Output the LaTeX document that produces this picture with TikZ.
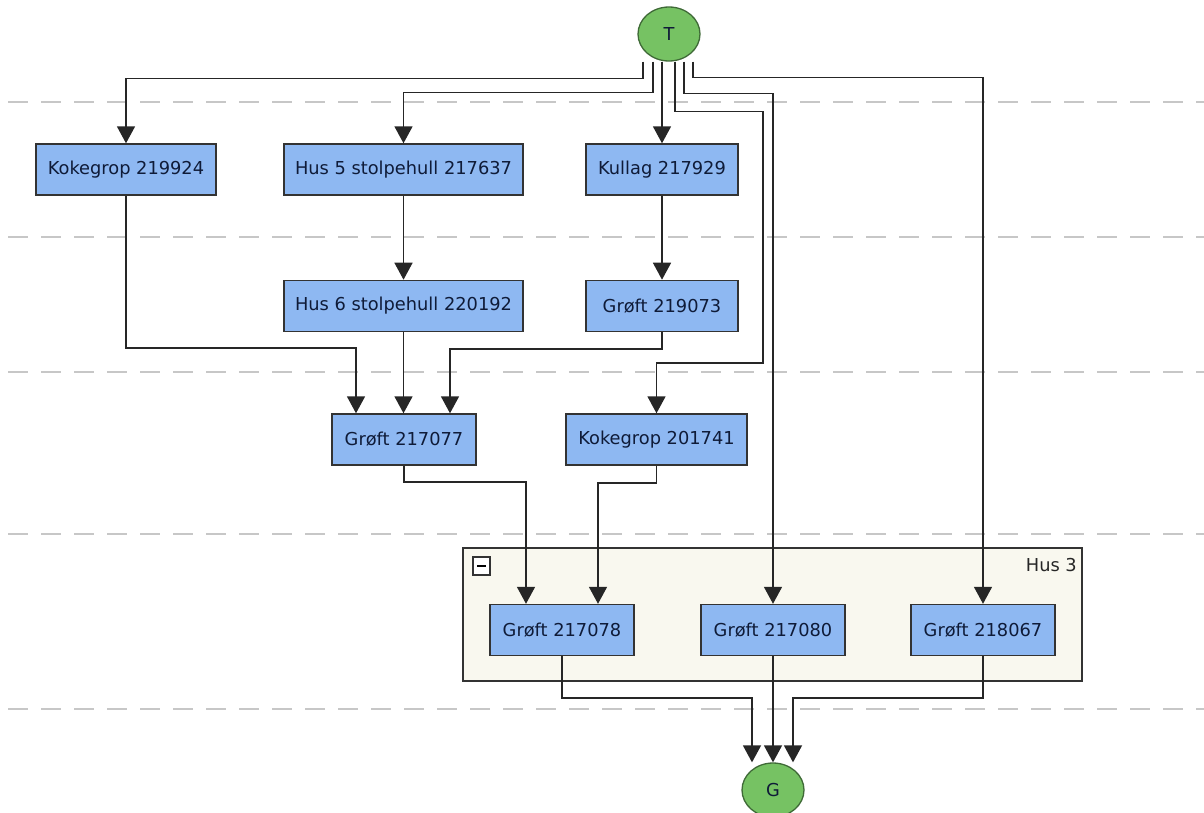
\documentclass[tikz,border=0pt]{standalone}
\usepackage{fontspec}
\setmainfont{DejaVu Sans}
\usetikzlibrary{arrows.meta,positioning,shapes.geometric}
\definecolor{boxblue}{HTML}{8EB8F2}
\definecolor{boxline}{HTML}{333333}
\definecolor{txtnavy}{HTML}{0F1B38}
\definecolor{endgreen}{HTML}{76C263}
\definecolor{endline}{HTML}{3F6A37}
\definecolor{grpfill}{HTML}{F9F8EF}
\tikzset{
  box/.style={draw=boxline, fill=boxblue, rectangle, line width=1.4pt, align=center, text=txtnavy, font=\fontsize{17.8}{20}\selectfont, minimum height=51pt, inner sep=0pt},
  endnode/.style={draw=endline, fill=endgreen, ellipse, line width=1.3pt, text=txtnavy, font=\fontsize{17.8}{20}\selectfont, minimum width=62pt, minimum height=54pt, inner sep=0pt},
  grp/.style={draw=boxline, fill=grpfill, line width=1.2pt},
  arr/.style={-{Triangle[length=17pt,width=18pt]}, line width=1.6pt, draw=black!85},
  sep/.style={draw=black!22, line width=2pt, dash pattern=on 20pt off 13pt},
  grplbl/.style={font=\fontsize{17.8}{20}\selectfont, text=black!85, inner sep=0pt},
}
\begin{document}
\begin{tikzpicture}[x=1pt, y=-1pt]
\useasboundingbox (0,0) rectangle (1204,812);
% layer separators
\foreach \yy in {102,237,372,534,709} \draw[sep] (8,\yy) -- (1204,\yy);
% group Hus 3
\draw[grp] (463,548) rectangle (1082,681);
\draw[boxline, line width=1.2pt, fill=white] (473,557) rectangle (490,575);
\draw[black, line width=1.4pt] (477,566) -- (486,566);
\node[grplbl, anchor=east] (hus3) at (1077,565) {Hus 3};
% nodes
\node[endnode] (T) at (669,34) {T};
\node[box, minimum width=180pt] (kok1) at (126,169.5) {Kokegrop 219924};
\node[box, minimum width=239pt] (hus5) at (403.5,169.5) {Hus 5 stolpehull 217637};
\node[box, minimum width=152pt] (kull) at (662,169.5) {Kullag 217929};
\node[box, minimum width=239pt, below=84pt of hus5] (hus6) {Hus 6 stolpehull 220192};
\node[box, minimum width=152pt, below=84pt of kull] (gr219073) {Grøft 219073};
\node[box, minimum width=144pt] (gr217077) at (404,439.5) {Grøft 217077};
\node[box, minimum width=181pt] (kok2) at (656.5,439.5) {Kokegrop 201741};
\node[box, minimum width=144pt] (gr217078) at (562,630) {Grøft 217078};
\node[box, minimum width=144pt] (gr217080) at (773,630) {Grøft 217080};
\node[box, minimum width=144pt] (gr218067) at (983,630) {Grøft 218067};
\node[endnode] (G) at (773,790) {G};
% edges from T
\coordinate (bendA) at (763,363);
\draw[arr] ([xshift=-26pt]T.south) -- ++(0,17) -| (kok1.north);
\draw[arr] ([xshift=-16pt]T.south) -- ++(0,31) -| (hus5.north);
\draw[arr] (T.south -| kull.north) -- (kull.north);
\draw[arr] ([xshift=6pt]T.south) -- ++(0,50) -| (bendA) -| (kok2.north);
\draw[arr] ([xshift=15pt]T.south) -- ++(0,32) -| (gr217080.north);
\draw[arr] ([xshift=24pt]T.south) -- ++(0,16) -| (gr218067.north);
% middle layers
\draw[arr] (hus5.south) -- (hus6.north);
\draw[arr] (kull.south) -- (gr219073.north);
\draw[arr] (kok1.south) -- ++(0,152) -| ([xshift=-48pt]gr217077.north);
\draw[arr] (hus6.south) -- (hus6.south |- gr217077.north);
\draw[arr] (gr219073.south) -- ++(0,17) -| ([xshift=46pt]gr217077.north);
\draw[arr] (gr217077.south) -- ++(0,16) -| ([xshift=-36pt]gr217078.north);
\draw[arr] (kok2.south) -- ++(0,17) -| ([xshift=36pt]gr217078.north);
% into G
\draw[arr] (gr217078.south) -- ++(0,42) -| ([xshift=-21pt]G.north);
\draw[arr] (gr217080.south) -- (G.north);
\draw[arr] (gr218067.south) -- ++(0,42) -| ([xshift=20pt]G.north);
\end{tikzpicture}
\end{document}
